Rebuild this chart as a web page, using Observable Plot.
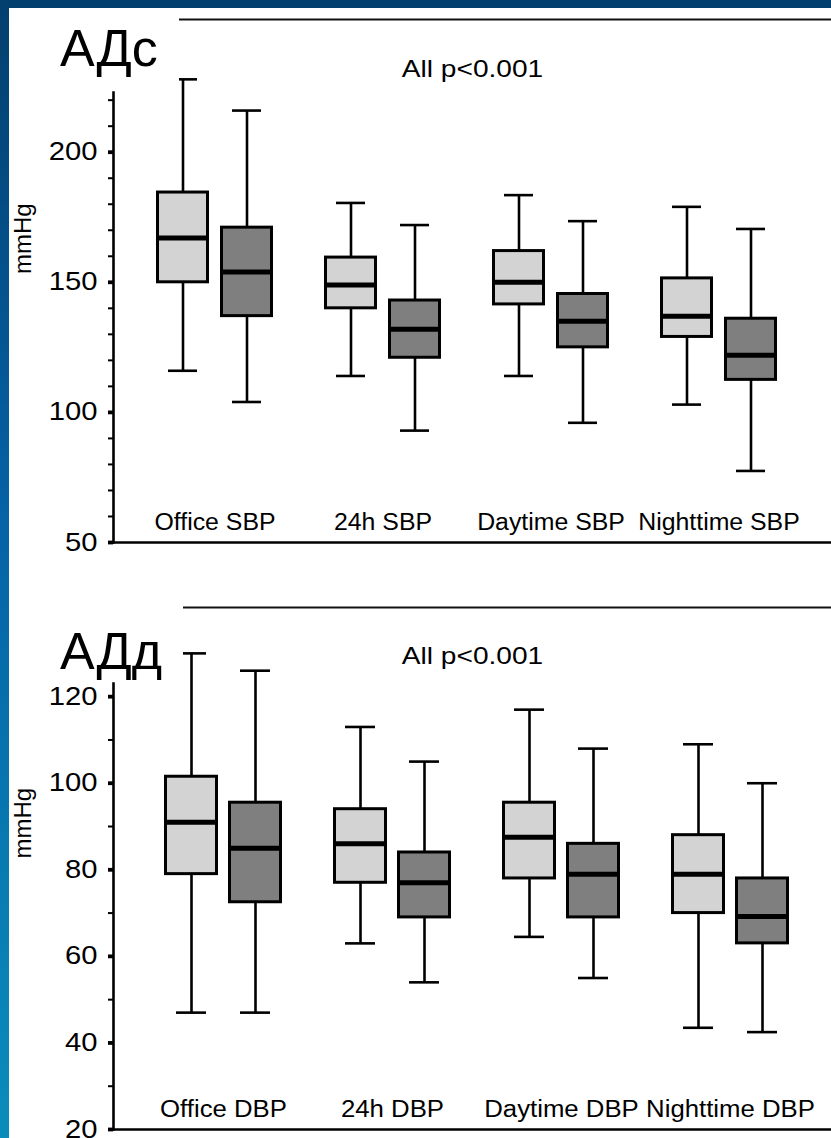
<!DOCTYPE html>
<html>
<head>
<meta charset="utf-8">
<script src="https://cdn.jsdelivr.net/npm/d3@7"></script>
<script src="https://cdn.jsdelivr.net/npm/@observablehq/plot@0.6"></script>
<style>
  html, body { margin: 0; padding: 0; background: #fff; overflow: hidden; }
  #page { position: relative; width: 831px; height: 1138px; overflow: hidden; background: #fff;
          font-family: "Liberation Sans", Arial, sans-serif; }
  .panel { position: absolute; left: 0; }
  .bar-top { position: absolute; left: 0; top: 0; width: 831px; height: 8px; background: #033f6e; z-index: 3; }
  .bar-left { position: absolute; left: 0; top: 0; width: 9px; height: 1138px; z-index: 3;
              background: linear-gradient(#033f6e, #0562a6 45%, #0a8dbb); }
  .title { position: absolute; left: 9px; width: 170px; background: #fff; z-index: 2; }
  .title span { position: absolute; left: 51px; font-size: 52px; line-height: 52px; color: #000; white-space: nowrap; }
</style>
</head>
<body>
<div id="page">
  <div id="sbp" class="panel" style="top:0px"></div>
  <div id="dbp" class="panel" style="top:580px"></div>
  <div class="title" style="top:8px;height:78px"><span style="top:14px">АДс</span></div>
  <div class="title" style="top:588px;height:94px;width:174px"><span style="top:37px">АДд</span></div>
  <div class="bar-top"></div>
  <div class="bar-left"></div>
</div>
<script>
// Systolic blood pressure (mmHg): box-plot summaries for the two groups
const sbpCategories = ["Office SBP", "24h SBP", "Daytime SBP", "Nighttime SBP"];
const sbpLowA    = [116, 114, 114, 103];
const sbpQ1A     = [150, 140, 141.5, 129];
const sbpMedianA = [167, 149, 150, 137];
const sbpQ3A     = [184.5, 159.5, 162, 151.5];
const sbpHighA   = [228, 180.5, 183.5, 179];

const sbpLowB    = [104, 93, 96, 77.5];
const sbpQ1B     = [137, 121, 125, 112.5];
const sbpMedianB = [154, 132, 135, 122];
const sbpQ3B     = [171, 143, 145.5, 136];
const sbpHighB   = [216, 172, 173.5, 170.5];

const sbpTicks  = [50, 60, 70, 80, 90, 100, 110, 120, 130, 140, 150, 160, 170, 180, 190, 200, 210, 220];
const sbpLabels = [50, 100, 150, 200];
const sbpDomain = [50, 251];

// Diastolic blood pressure (mmHg)
const dbpCategories = ["Office DBP", "24h DBP", "Daytime DBP", "Nighttime DBP"];
const dbpLowA    = [47, 63, 64.5, 43.5];
const dbpQ1A     = [79, 77, 78, 70];
const dbpMedianA = [91, 86, 87.5, 79];
const dbpQ3A     = [101.5, 94, 95.5, 88];
const dbpHighA   = [130, 113, 117, 109];

const dbpLowB    = [47, 54, 55, 42.5];
const dbpQ1B     = [72.5, 69, 69, 63];
const dbpMedianB = [85, 77, 79, 69.2];
const dbpQ3B     = [95.5, 84, 86, 78];
const dbpHighB   = [126, 105, 108, 100];

const dbpTicks  = [20, 30, 40, 50, 60, 70, 80, 90, 100, 110, 120];
const dbpLabels = [20, 40, 60, 80, 100, 120];
const dbpDomain = [20, 140.6];

const pLabel = "All p<0.001";
const yLabel = "mmHg";

const FONT = "Liberation Sans, Arial, sans-serif";
const fillA = "#d3d3d3";
const fillB = "#7f7f7f";

function summaries(categories, lo, q1, med, q3, hi) {
  return categories.map((category, i) => ({category, lo: lo[i], q1: q1[i], med: med[i], q3: q3[i], hi: hi[i]}));
}

// box placement inside each category band: [insetLeft, insetRight]
const layoutA = {box: [1.5, 65.5], cap: [12, 76], dx: -32, fill: fillA};
const layoutB = {box: [65.5, 1.5], cap: [76, 12], dx: 32, fill: fillB};

function boxMarks(rows, g) {
  return [
    Plot.ruleX(rows, {x: "category", y1: "q3", y2: "hi", dx: g.dx, stroke: "#000", strokeWidth: 2.6}),
    Plot.ruleX(rows, {x: "category", y1: "lo", y2: "q1", dx: g.dx, stroke: "#000", strokeWidth: 2.6}),
    Plot.tickY(rows, {x: "category", y: "hi", insetLeft: g.cap[0], insetRight: g.cap[1], stroke: "#000", strokeWidth: 2.6}),
    Plot.tickY(rows, {x: "category", y: "lo", insetLeft: g.cap[0], insetRight: g.cap[1], stroke: "#000", strokeWidth: 2.6}),
    Plot.barY(rows, {x: "category", y1: "q1", y2: "q3", insetLeft: g.box[0], insetRight: g.box[1],
                     fill: g.fill, stroke: "#000", strokeWidth: 3}),
    Plot.tickY(rows, {x: "category", y: "med", insetLeft: g.box[0], insetRight: g.box[1], stroke: "#000", strokeWidth: 5})
  ];
}

function panel({categories, rowsA, rowsB, ticks, labels, domain, band, height, marginTop, marginBottom, axisInset, pDy, yLabelDy}) {
  return Plot.plot({
    width: 831,
    height,
    marginLeft: 113,
    marginRight: 0,
    marginTop,
    marginBottom,
    style: {fontFamily: FONT, color: "#000", background: "transparent", overflow: "visible"},
    x: {type: "band", domain: categories, ...band, axis: null},
    y: {domain},
    marks: [
      Plot.frame({anchor: "top", stroke: "#111", strokeWidth: 2}),
      Plot.frame({anchor: "bottom", stroke: "#000", strokeWidth: 2.6}),
      Plot.frame({anchor: "left", stroke: "#000", strokeWidth: 2.6, insetTop: axisInset}),
      Plot.axisY({ticks, tickSize: 5, tickPadding: 11, strokeWidth: 2, fontSize: 25, label: null,
                  tickFormat: d => labels.includes(d) ? String(d) : ""}),
      Plot.axisY({ticks: labels, tickSize: 5, strokeWidth: 3.8, label: null, tickFormat: () => ""}),
      Plot.text([yLabel], {frameAnchor: "left", rotate: -90, dx: -90, dy: yLabelDy, fontSize: 24, text: d => d}),
      Plot.text([pLabel], {frameAnchor: "top", lineAnchor: "bottom", dy: pDy, fontSize: 24, text: d => d,
                           className: "wide"}),
      Plot.text(categories, {x: d => d, frameAnchor: "bottom", lineAnchor: "bottom", dy: -13, fontSize: 23, text: d => d,
                             className: "cat"}),
      ...boxMarks(rowsA, layoutA),
      ...boxMarks(rowsB, layoutB)
    ]
  });
}

// widen the horizontal labels a little, as in the printed figure
function widenText(svg, k, kCat) {
  svg.querySelectorAll("text").forEach(t => {
    const tr = t.getAttribute("transform") || "";
    if (tr.includes("rotate")) return;
    const w = t.getComputedTextLength();
    if (w > 0) {
      const isCat = t.closest("g.cat") !== null;
      t.setAttribute("textLength", (w * (isCat ? kCat : k)).toFixed(1));
      t.setAttribute("lengthAdjust", "spacingAndGlyphs");
    }
  });
}

const sbpChart = panel({
  categories: sbpCategories,
  rowsA: summaries(sbpCategories, sbpLowA, sbpQ1A, sbpMedianA, sbpQ3A, sbpHighA),
  rowsB: summaries(sbpCategories, sbpLowB, sbpQ1B, sbpMedianB, sbpQ3B, sbpHighB),
  ticks: sbpTicks, labels: sbpLabels, domain: sbpDomain,
  band: {paddingInner: 0.301, paddingOuter: 0.277, align: 0.447},
  height: 580, marginTop: 19, marginBottom: 38, axisInset: 73, pDy: 57, yLabelDy: -7
});
const dbpChart = panel({
  categories: dbpCategories,
  rowsA: summaries(dbpCategories, dbpLowA, dbpQ1A, dbpMedianA, dbpQ3A, dbpHighA),
  rowsB: summaries(dbpCategories, dbpLowB, dbpQ1B, dbpMedianB, dbpQ3B, dbpHighB),
  ticks: dbpTicks, labels: dbpLabels, domain: dbpDomain,
  band: {paddingInner: 0.303, paddingOuter: 0.272, align: 0.55},
  height: 558, marginTop: 27, marginBottom: 9, axisInset: 76, pDy: 56, yLabelDy: -10
});

document.getElementById("sbp").appendChild(sbpChart);
document.getElementById("dbp").appendChild(dbpChart);
widenText(sbpChart, 1.17, 1.08);
widenText(dbpChart, 1.17, 1.12);
</script>
</body>
</html>
